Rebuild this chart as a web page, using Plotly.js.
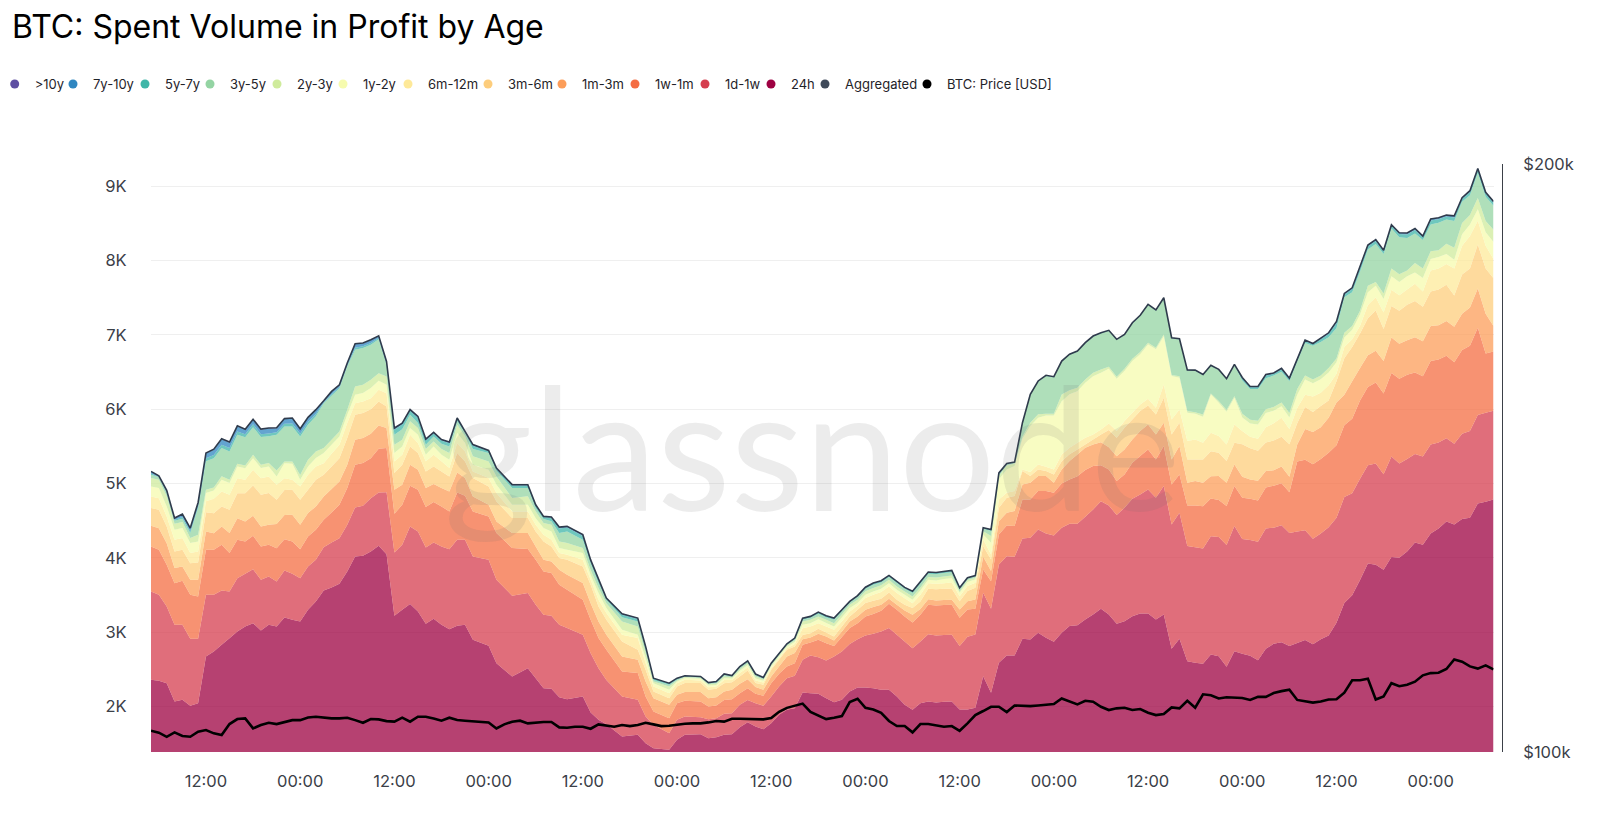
<!DOCTYPE html>
<html><head><meta charset="utf-8">
<script src="https://cdn.plot.ly/plotly-3.0.1.min.js"></script>
<style>html,body{margin:0;padding:0;background:#fff}#chart{width:1600px;height:828px}</style>
</head><body><div id="chart"></div>
<script>
const hours = [
0,1,2,3,4,5,6,7,8,9,10,11,12,13,14,15,16,17,18,19,20,21,22,23,24,25,26,27,28,29,30,
31,32,33,34,35,36,37,38,39,40,41,43,44,46,48,49,50,51,52,53,55,56,57,58,60,62,63,64,66,
67,68,70,71,72,73,74,75,76,77,78,79,80,81,82,83,84,85,86,87,88,89,90,91,92,93,94,95,96,97,98,99,100,101,102,
103,104,105,106,107,108,109,110,111,112,113,114,115,116,117,118,119,120,121,122,123,124,125,126,127,128,129,130,131,132,133,134,135,136,137,138,
139,140,141,142,143,144,145,146,147,148,149,150,151,152,153,154,155,156,157,158,159,160,161,162,163,164,165,166,167,168,169,170,171];

const spent24h = [
2359,2345,2314,2067,2090,2009,2045,2673,2740,2830,2919,3009,3076,3121,3022,3099,3076,3197,3166,3143,3300,3412,3560,3601,3650,3816,4018,4027,4085,4161,4049,
3220,3300,3377,3278,3112,3179,3099,3040,3085,3099,2897,2816,2583,2404,2516,2381,2247,2238,2126,2099,2135,1919,1821,1762,1596,1619,1507,1440,1417,
1552,1619,1628,1574,1587,1619,1628,1722,1789,1731,1695,1776,1888,1955,1978,2188,2179,2170,2112,2058,2090,2202,2256,2256,2247,2224,2224,2135,2022,1955,2045,2067,2054,2063,2067,
1960,1960,1982,2408,2184,2587,2686,2686,2910,2901,2991,2924,2870,2991,3081,3094,3170,3238,3314,3238,3112,3148,3215,3251,3251,3170,3238,2776,2910,2610,2587,2574,2699,2677,2534,2744,
2709,2683,2622,2776,2843,2863,2812,2853,2894,2838,2904,2956,3125,3393,3495,3701,3922,3907,3840,4009,3999,4086,4205,4174,4328,4395,4487,4446,4523,4539,4729,4755,4785];

const spent1d1w = [
1188,1157,1031,1031,1009,901,865,830,762,731,628,717,708,726,682,650,605,632,619,583,583,561,583,605,614,628,659,673,717,717,834,
852,874,1045,1076,1027,1027,1054,1076,1157,1143,1121,1157,1121,1085,1009,986,986,982,973,955,830,798,695,596,538,471,359,314,224,
269,247,229,256,256,282,282,300,300,314,314,359,381,426,435,439,507,493,507,614,650,637,650,700,731,785,830,830,852,830,830,906,901,897,897,
852,977,986,1121,1130,1323,1336,1327,1350,1368,1390,1404,1430,1412,1377,1363,1381,1412,1448,1466,1462,1525,1578,1601,1668,1637,1726,1673,1695,1547,1556,1551,1592,1601,1637,1682,
1542,1557,1593,1619,1562,1573,1521,1501,1475,1418,1424,1454,1413,1424,1372,1362,1321,1362,1285,1352,1269,1244,1192,1187,1197,1156,1120,1089,1146,1167,1192,1197,1192];

const spent1w1m = [
605,605,561,561,592,592,569,605,605,614,516,516,435,448,448,426,448,421,435,390,404,404,368,404,448,493,574,574,538,587,592,
520,538,547,561,543,543,538,507,637,592,605,583,628,641,592,605,583,574,538,516,471,448,404,404,336,359,269,179,202,
224,211,211,170,170,188,188,157,157,126,135,179,170,157,170,202,175,233,233,143,193,215,215,256,265,278,327,336,336,345,359,395,404,404,404,
381,368,345,314,372,404,413,413,525,516,516,569,574,596,596,641,628,583,484,484,457,448,484,516,538,516,538,538,516,547,561,569,507,498,525,538,
555,555,555,550,565,565,550,940,951,1002,1002,1002,976,966,1002,1053,1053,1089,1084,1125,1141,1131,1095,1079,1120,1115,1110,1095,1125,1146,1172,797,797];

const spent1m3m = [
278,291,291,202,193,202,224,247,224,247,269,291,269,269,269,269,327,327,359,327,314,314,314,314,314,314,336,336,327,314,269,
323,269,282,269,256,242,247,269,269,238,202,157,157,202,215,179,157,157,202,202,224,224,224,202,202,179,202,179,179,
112,117,126,112,112,112,126,126,121,90,81,90,99,135,135,76,67,81,90,72,76,90,90,90,94,81,67,67,81,103,76,76,67,67,67,
112,112,126,170,135,179,170,202,202,224,202,202,135,188,247,291,300,291,309,300,336,336,314,336,336,336,314,336,381,305,327,314,300,323,314,291,
283,257,267,221,206,226,206,231,411,432,427,473,576,411,504,437,427,427,437,478,468,463,473,473,473,463,468,478,488,514,529,534,344];

const spent3m6m = [
238,247,224,224,224,224,233,256,269,269,314,336,381,408,426,426,323,336,336,336,314,359,291,305,314,359,336,336,332,323,291,
224,269,247,224,224,238,224,202,260,224,247,247,269,202,202,202,247,202,157,202,224,247,202,202,202,135,157,90,90,
112,121,121,112,112,112,103,99,117,54,67,90,90,90,90,58,58,67,54,54,67,67,90,90,85,81,85,67,76,90,103,139,152,152,148,
112,135,157,143,157,179,202,202,179,90,90,67,112,112,90,67,45,67,103,229,247,291,269,269,256,269,336,336,314,314,291,314,336,314,291,291,
437,421,401,385,401,401,437,283,298,272,283,231,283,488,463,463,498,540,432,421,447,478,488,463,463,478,488,421,529,524,591,606,642];

const spent6m12m = [
157,157,135,157,157,135,148,148,193,202,202,202,179,211,224,224,202,157,135,179,202,179,157,170,179,202,157,157,148,157,179,
157,135,157,135,135,157,135,112,135,135,90,112,112,90,90,90,90,90,67,67,90,67,90,90,90,157,90,67,67,
45,45,36,36,31,45,31,45,40,36,31,22,22,22,31,90,90,76,81,90,67,67,54,67,81,90,81,90,90,67,90,76,72,76,85,
67,67,67,90,67,112,67,67,22,54,67,58,67,90,90,90,90,67,67,90,90,90,90,90,90,90,179,202,179,247,269,224,247,224,224,247,
180,154,164,206,231,257,206,206,164,206,180,206,103,154,103,103,180,180,221,221,206,206,231,206,283,283,278,360,385,437,319,308,257];

const spent1y2y = [
135,135,135,135,135,135,135,112,112,157,157,157,157,157,135,135,112,202,215,90,112,112,135,121,112,112,112,112,135,121,112,
112,112,90,112,90,112,90,112,135,112,90,112,112,90,90,90,90,112,67,67,90,67,90,67,67,45,67,45,45,
22,22,22,22,22,22,18,31,31,27,22,22,22,18,27,45,45,54,45,45,54,45,36,45,45,45,45,45,45,45,58,45,45,54,58,
45,54,45,67,157,269,314,336,413,619,628,691,726,717,717,695,740,785,762,735,704,673,695,673,731,785,650,583,426,381,345,350,516,448,439,359,
180,180,190,190,170,154,154,180,206,180,180,170,154,128,128,154,170,154,180,180,180,180,154,180,154,154,134,118,154,154,154,180,231];

const spent2y3y = [
112,112,135,81,81,67,90,45,40,45,45,36,36,45,45,45,81,22,31,67,90,90,67,67,67,67,112,112,112,103,112,
112,90,90,90,76,67,76,90,112,90,112,112,112,90,112,90,67,90,90,90,67,67,67,67,112,112,67,22,45,
13,13,9,18,18,22,18,22,22,27,18,18,18,18,22,45,45,36,45,45,45,45,45,45,45,45,45,45,45,45,40,36,40,36,36,
22,27,22,45,90,45,54,36,27,45,45,22,22,90,54,45,45,45,45,27,27,31,31,31,22,22,22,13,22,22,22,31,13,22,22,22,
51,51,51,51,51,51,62,77,51,51,51,62,51,62,51,51,87,51,77,103,103,77,128,128,103,93,139,164,154,128,154,154,164];

const spent3y5y = [
45,36,45,40,45,67,359,381,395,381,381,390,381,372,372,359,480,471,471,516,471,471,605,592,583,583,493,493,471,457,157,
135,143,90,67,58,67,72,90,45,45,99,112,76,135,112,45,54,45,112,157,112,90,67,45,58,67,54,22,22,
13,9,13,13,13,22,13,22,22,18,13,18,13,13,18,22,27,36,31,45,40,27,36,36,45,40,36,45,36,45,49,45,45,45,45,
31,18,22,31,67,22,13,9,179,372,439,507,489,439,475,484,484,484,484,480,493,453,475,484,507,498,484,493,493,543,556,529,368,417,413,417,
447,411,427,416,421,411,427,370,437,452,452,411,411,478,452,524,488,509,529,540,498,437,396,385,360,370,324,360,283,267,334,324,324];

const spent5y7y = [
16,6,13,13,22,24,27,40,43,45,45,43,38,38,38,40,34,38,40,37,35,32,11,21,16,16,29,24,24,16,16,
68,61,51,68,58,41,41,44,34,17,44,27,27,34,34,34,27,44,61,51,51,34,34,17,34,34,27,17,17,
14,7,7,7,10,10,7,10,10,10,10,7,10,7,10,17,14,17,17,17,14,14,14,14,17,17,17,17,14,20,24,17,17,17,17,
10,10,7,10,17,17,10,7,7,7,7,7,7,7,7,7,7,7,7,7,7,7,7,7,7,7,7,7,7,7,7,7,7,7,7,7,
29,25,25,36,25,32,29,29,29,22,36,43,61,36,43,47,43,43,36,36,43,47,47,36,54,47,43,47,40,43,43,43,40];

const spent7y10y = [
26,10,21,21,36,39,44,65,70,73,73,70,62,62,62,65,55,62,65,60,57,52,18,34,26,26,47,39,39,26,26,
18,16,14,18,15,11,11,12,9,5,12,7,7,9,9,9,7,12,16,14,14,9,9,5,9,9,7,5,5,
4,2,2,2,3,3,2,3,3,3,3,2,3,2,3,5,4,5,5,5,4,4,4,4,5,5,5,5,4,5,6,5,5,5,5,
3,3,2,3,4,4,3,2,2,2,2,2,2,2,2,2,2,2,2,2,2,2,2,2,2,2,2,2,2,2,2,2,2,2,2,2,
10,8,8,12,8,11,10,10,10,7,12,14,20,12,14,16,14,14,12,12,14,16,16,12,18,16,14,16,13,14,14,14,13];

const spentOver10y = [
3,1,2,2,4,5,5,8,8,8,8,8,7,7,7,8,6,7,8,7,7,6,2,4,3,3,5,5,5,3,3,
4,4,3,4,3,2,2,3,2,1,3,2,2,2,2,2,2,3,4,3,3,2,2,1,2,2,2,1,1,
1,0,0,0,1,1,0,1,1,1,1,0,1,0,1,1,1,1,1,1,1,1,1,1,1,1,1,1,1,1,1,1,1,1,1,
1,1,0,1,1,1,1,0,1,1,1,1,1,1,1,1,1,1,1,1,1,1,1,1,1,1,1,1,1,1,1,1,1,1,1,1,
2,2,2,3,2,3,2,2,2,2,3,4,5,3,4,4,4,4,3,3,4,4,4,3,5,4,4,4,3,4,4,4,3];

const priceUsd = [
102540,102300,101810,102340,101900,101810,102420,102620,102220,102010,103350,103960,104040,102820,103230,103510,103350,103550,103830,103830,104160,104240,104120,104040,104040,104120,103830,103510,103960,103920,103710,103640,104130,
103640,104250,104250,104040,103760,104130,103840,103760,103720,103640,103550,102820,103310,103640,103760,103430,103550,103600,103600,102940,102900,103020,103020,102780,103310,103150,103020,103230,103100,103230,103510,103310,103100,
103150,103310,103390,103430,103430,103550,103720,103640,104000,104000,103960,103920,103920,104080,104850,105340,105630,105870,104850,104450,103960,104120,104330,106070,106480,105340,105140,104730,103720,103110,103110,102340,103350,103350,103150,103030,103110,
102530,103430,104450,104950,105480,105480,104820,105640,105600,105560,105640,105690,105810,106510,106100,105770,106220,106100,105480,105070,105280,105360,105070,105190,104740,104450,104580,105400,105280,106220,105360,107040,106920,
106520,106660,106660,106570,106330,106710,106710,107190,107440,107630,106330,106180,105990,106130,106380,106420,107240,108830,108830,109030,106380,106760,108450,108060,108260,108640,109460,109750,109800,110280,111530,111240,110620,110330,110760,110230];

const seriesNames = ['24h','1d-1w','1w-1m','1m-3m','3m-6m','6m-12m','1y-2y','2y-3y','3y-5y','5y-7y','7y-10y','>10y'];
const seriesColors = ['#9e0142','#d53e4f','#f46d43','#fc9d59','#fdcd7c','#fee999','#f6fbae','#cfeb9c','#94d4a3','#3fb6a8','#2f86c0','#5e4fa2'];
const seriesValues = [spent24h,spent1d1w,spent1w1m,spent1m3m,spent3m6m,spent6m12m,spent1y2y,spent2y3y,spent3y5y,spent5y7y,spent7y10y,spentOver10y];
const legendNames = ['>10y','7y-10y','5y-7y','3y-5y','2y-3y','1y-2y','6m-12m','3m-6m','1m-3m','1w-1m','1d-1w','24h','Aggregated','BTC: Price [USD]'];
const legendColors = ['#5e4fa2','#2f86c0','#3fb6a8','#94d4a3','#cfeb9c','#f6fbae','#fee999','#fdcd7c','#fc9d59','#f46d43','#d53e4f','#9e0142','#3f4a5a','#000000'];
const legendDotX = [24.7,83,155,220,287,353,418,498,572,645,715,781,835,937];
const leftTicks = [2000,3000,4000,5000,6000,7000,8000,9000];
const leftTickText = ['2K','3K','4K','5K','6K','7K','8K','9K'];
const rightTicks = [100000,200000];
const rightTickText = ['$100k','$200k'];

const FONT = 'Inter, "Liberation Sans", sans-serif';
const toDate = h => new Date(Date.UTC(2025,4,1,5+h)).toISOString().slice(0,19).replace('T',' ');
const times = hours.map(toDate);
const priceTimes = priceUsd.map((_,i)=>toDate(i));
const aggregated = hours.map((_,i)=>seriesValues.reduce((s,a)=>s+a[i],0));
const rgba = (hex,a)=>{const n=parseInt(hex.slice(1),16);return `rgba(${n>>16},${(n>>8)&255},${n&255},${a})`;};

const traces = seriesValues.map((vals,i)=>({
  type:'scatter',mode:'none',x:times,y:vals,name:seriesNames[i],stackgroup:'spent',
  fillcolor:rgba(seriesColors[i],0.75),showlegend:false,hoverinfo:'x+y+name'
}));
traces.push({type:'scatter',mode:'lines',x:times,y:aggregated,name:'Aggregated',showlegend:false,
  line:{color:'#2f3b4c',width:1.6}});
traces.push({type:'scatter',mode:'lines',x:priceTimes,y:priceUsd,name:'BTC: Price [USD]',yaxis:'y2',showlegend:false,
  line:{color:'#000000',width:2.6}});

const layout = {
  width:1600,height:828,paper_bgcolor:'#fff',plot_bgcolor:'#fff',
  font:{family:FONT,color:'#3b4048',size:16},
  margin:{l:151,r:97.5,t:164,b:76,pad:0},
  title:{text:'BTC: Spent Volume in Profit by Age',x:12/1600,xanchor:'left',xref:'container',y:1-27/828,yanchor:'middle',yref:'container',font:{family:FONT,size:32,color:'#000'}},
  xaxis:{domain:[0,1343/1351.5],type:'date',range:[toDate(0),toDate(171)],tick0:'2025-05-01 00:00:00',dtick:43200000,tickformat:'%H:%M',
    showgrid:false,zeroline:false,showline:false,ticks:'outside',ticklen:14,tickcolor:'rgba(0,0,0,0)',tickfont:{size:16.5,color:'#3b4048',family:FONT}},
  yaxis:{range:[1388,9296],tickvals:leftTicks,ticktext:leftTickText,showgrid:true,gridcolor:'#efefef',gridwidth:1,zeroline:false,showline:false,
    ticks:'outside',ticklen:20,tickcolor:'rgba(0,0,0,0)',tickfont:{size:16.5,color:'#3b4048',family:FONT}},
  yaxis2:{type:'log',overlaying:'y',anchor:'free',position:1,side:'right',range:[5,Math.log10(200000)],tickvals:rightTicks,ticktext:rightTickText,
    showgrid:false,zeroline:false,showline:true,linecolor:'#3b4048',linewidth:1,ticks:'outside',ticklen:17,tickcolor:'rgba(0,0,0,0)',tickfont:{size:16.5,color:'#3b4048',family:FONT}},
  annotations:[{text:'glassnode',xref:'paper',yref:'paper',x:0.489,y:0.522,xanchor:'center',yanchor:'middle',showarrow:false,
    font:{family:'Lato, sans-serif',size:170,color:'rgba(110,110,110,0.13)'}}],
  hovermode:false
};

legendNames.forEach((n,i)=>{
  const key = i===0?'legend':'legend'+(i+1);
  traces.push({type:'scatter',mode:'markers',x:[null],y:[null],name:n,legend:key,showlegend:true,
    marker:{color:legendColors[i],size:9,line:{width:0}}});
  layout[key]={xref:'container',yref:'container',x:(legendDotX[i]-20)/1600,y:1-84/828,xanchor:'left',yanchor:'middle',
    orientation:'h',indentation:-10,bgcolor:'rgba(0,0,0,0)',borderwidth:0,font:{family:FONT,size:13,color:'#1f2329'},itemclick:false,itemdoubleclick:false};
});

Plotly.newPlot('chart',traces,layout,{displayModeBar:false,responsive:false});
</script></body></html>
